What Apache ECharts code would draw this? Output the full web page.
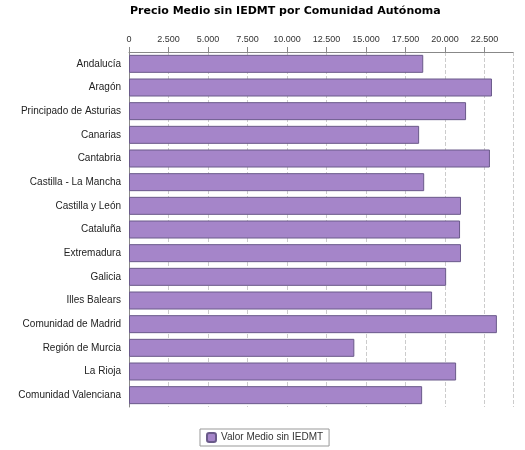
<!DOCTYPE html><html><head><meta charset="utf-8"><script src="https://cdn.jsdelivr.net/npm/echarts@6/dist/echarts.min.js"></script></head><body style="margin:0;background:#fff"><div id="c" style="width:525px;height:450px"></div><script>
const categories=["Andalucía","Aragón","Principado de Asturias","Canarias","Cantabria","Castilla - La Mancha","Castilla y León","Cataluña","Extremadura","Galicia","Illes Balears","Comunidad de Madrid","Región de Murcia","La Rioja","Comunidad Valenciana"];
const values=[18620,22970,21330,18360,22840,18680,21010,20950,21010,20070,19180,23280,14260,20700,18550];
const seriesName="Valor Medio sin IEDMT";
const c=echarts.init(document.getElementById('c'));
c.setOption({animation:false,
title:{text:"Precio Medio sin IEDMT por Comunidad Autónoma",left:125,top:1,textStyle:{fontSize:11,fontWeight:'bold',color:'#000',fontFamily:'DejaVu Sans'}},
legend:{bottom:4,left:200,itemWidth:9,itemHeight:9,borderColor:'#999',borderWidth:1,padding:[3,6],textStyle:{fontSize:10,color:'#333'},data:[seriesName]},
grid:{left:129,right:12,top:52,bottom:43},
xAxis:{type:'value',position:'top',min:0,max:24300,interval:2500,axisLine:{show:true,lineStyle:{color:'#888'}},axisTick:{show:true},axisLabel:{fontSize:9,color:'#333',formatter:v=>v>24000?'':String(v).replace(/\B(?=(\d{3})+(?!\d))/g,'.'),showMaxLabel:false},splitLine:{lineStyle:{type:'dashed',color:'#ccc'}}},
yAxis:{type:'category',inverse:true,data:categories,axisLine:{lineStyle:{color:'#888'}},axisTick:{show:false},axisLabel:{fontSize:10,color:'#222'}},
series:[{name:seriesName,type:'bar',data:values,barWidth:18,itemStyle:{color:'#a585c9',borderColor:'#6a5a8a',borderWidth:1}}]});
</script></body></html>
